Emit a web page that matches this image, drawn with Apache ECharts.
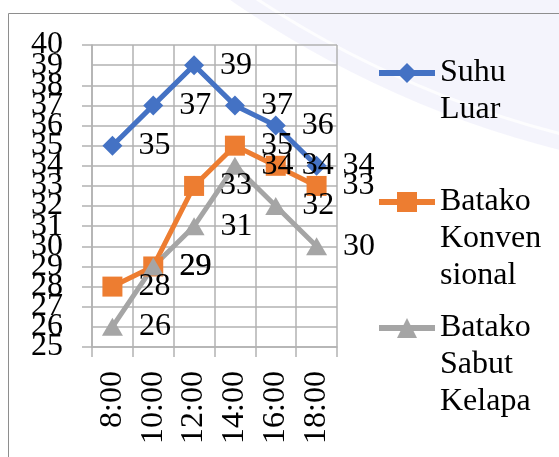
<!DOCTYPE html>
<html>
<head>
<meta charset="utf-8">
<style>
html,body{margin:0;padding:0;background:#fff;}
#chart{width:559px;height:457px;}
</style>
<script src="https://cdn.jsdelivr.net/npm/echarts@6/dist/echarts.min.js"></script>
</head>
<body>
<div id="chart"></div>
<script>
const categories = ['8:00', '10:00', '12:00', '14:00', '16:00', '18:00'];
const suhuLuar = [35, 37, 39, 37, 36, 34];
const batakoKonvensional = [28, 29, 33, 35, 34, 33];
const batakoSabutKelapa = [26, 29, 31, 34, 32, 30];
const seriesNames = ['Suhu Luar', 'Batako Konvensional', 'Batako Sabut Kelapa'];
const legendLabels = ['Suhu\nLuar', 'Batako\nKonven\nsional', 'Batako\nSabut\nKelapa'];
const yMin = 25, yMax = 40, yStep = 1;

const FONT = 'Liberation Serif';
const FS = 32;
const LH = 37;
const gridColor = '#b2b2b2';
const colors = ['#4472C4', '#ED7D31', '#A5A5A5'];
const symbols = ['diamond', 'rect', 'triangle'];
const values = [suhuLuar, batakoKonvensional, batakoSabutKelapa];
const legendIconCenters = [73, 202, 328];

const chart = echarts.init(document.getElementById('chart'), null, {renderer: 'canvas'});

const legends = seriesNames.map((name, i) => {
  const lines = legendLabels[i].split('\n');
  const n = lines.length;
  // pad with blank lines before so the first line sits level with the icon
  const padded = new Array(n - 1).fill(' ').concat(lines).join('\n');
  const half = (2 * n - 1) * LH / 2;
  return {
    data: [name],
    left: 376,
    top: legendIconCenters[i] - half,
    orient: 'vertical',
    padding: 0,
    itemWidth: 56,
    itemHeight: 25,
    selectedMode: false,
    formatter: () => padded,
    lineStyle: {width: 6},
    textStyle: {fontFamily: FONT, fontSize: FS, lineHeight: LH, color: '#000'}
  };
});

const yLabelStyle = {margin: 29, fontFamily: FONT, fontSize: FS, color: '#000'};

const option = {
  animation: false,
  backgroundColor: 'transparent',
  graphic: [
    {type: 'circle', shape: {cx: 809, cy: -835, r: 1016}, style: {fill: 'rgba(205,205,240,0.22)'}, z: -10, silent: true},
    {type: 'circle', shape: {cx: 809, cy: -835, r: 1000}, style: {fill: 'none', stroke: 'rgba(255,255,255,0.8)', lineWidth: 3}, z: -9, silent: true},
    {type: 'rect', shape: {x: 8.5, y: 13.5, width: 700, height: 600}, style: {fill: 'none', stroke: '#8e8e8e', lineWidth: 1}, z: -5, silent: true}
  ],
  grid: {left: 92, top: 45, width: 245, height: 302, containLabel: false},
  legend: legends,
  xAxis: {
    type: 'category',
    data: categories,
    boundaryGap: true,
    axisLine: {show: true, lineStyle: {color: gridColor, width: 1.5}},
    axisTick: {show: true, length: 10, inside: false, interval: 0, lineStyle: {color: gridColor, width: 1.5}},
    splitLine: {show: true, interval: 0, lineStyle: {color: gridColor, width: 1.5}},
    axisLabel: {rotate: 90, interval: 0, margin: 24, fontFamily: FONT, fontSize: FS, color: '#000'}
  },
  yAxis: [
    {
      type: 'value', position: 'left',
      min: yMin, max: yMax, interval: yStep,
      axisLine: {show: true, lineStyle: {color: gridColor, width: 1.5}},
      axisTick: {show: true, length: 10, inside: false, lineStyle: {color: gridColor, width: 1.5}},
      splitLine: {show: true, lineStyle: {color: gridColor, width: 1.5}},
      axisLabel: Object.assign({showMinLabel: true, showMaxLabel: true}, yLabelStyle)
    },
    {
      // companion axis: shows the labels next to min/max that the first axis drops for overlap
      type: 'value', position: 'left', offset: 0,
      min: yMin, max: yMax, interval: yStep,
      axisLine: {show: false}, axisTick: {show: false}, splitLine: {show: false},
      axisLabel: Object.assign({
        showMinLabel: false, showMaxLabel: false,
        formatter: (v) => (v === yMin + yStep || v === yMax - yStep) ? String(v) : ''
      }, yLabelStyle)
    }
  ],
  series: seriesNames.map((name, i) => ({
    name: name,
    type: 'line',
    yAxisIndex: 0,
    data: values[i],
    symbol: symbols[i],
    symbolSize: i === 2 ? [21, 18] : 20,
    showAllSymbol: true,
    lineStyle: {color: colors[i], width: 5},
    itemStyle: {color: colors[i], borderWidth: 0},
    label: {show: true, position: 'right', distance: 16, fontFamily: FONT, fontSize: FS, color: '#000'},
    emphasis: {disabled: true}
  }))
};
chart.setOption(option);
</script>
</body>
</html>
